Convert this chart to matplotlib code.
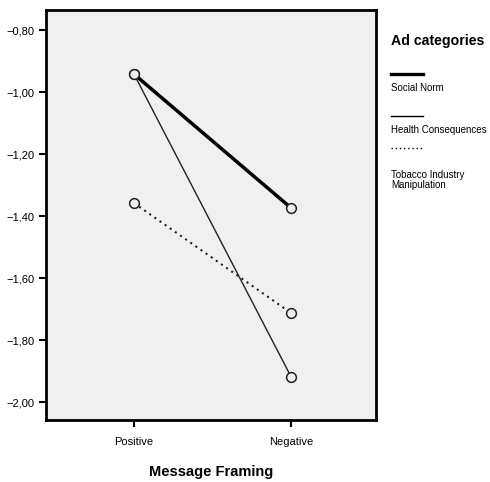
import matplotlib.pyplot as plt
from matplotlib.lines import Line2D

# data
framing = ['Positive', 'Negative']
social_norm = [-0.942, -1.374]
health = [-0.942, -1.919]
tobacco = [-1.358, -1.713]
yticks = [-0.8, -1.0, -1.2, -1.4, -1.6, -1.8, -2.0]

plt.rcParams['font.family'] = ['Liberation Sans Narrow', 'Liberation Sans', 'DejaVu Sans']

fig = plt.figure(figsize=(4.9, 4.82), dpi=100)
ax = fig.add_axes([46 / 490, 1 - 420 / 482, 330 / 490, 410 / 482])
ax.set_facecolor('#f0f0f0')

x = [0, 1]
mk = dict(marker='o', markersize=7, markerfacecolor='#f0f0f0', markeredgecolor='#222222', markeredgewidth=1.1)
ax.plot(x, social_norm, color='black', lw=2.5, **mk)
ax.plot(x, health, color='#222222', lw=1.0, **mk)
ax.plot(x, tobacco, color='#222222', lw=1.5, linestyle=(0, (1, 2)), **mk)

ax.set_xlim(-0.56, 1.54)
ax.set_ylim(-2.058, -0.735)
ax.set_xticks(x)
ax.set_xticklabels(framing, fontsize=8)
ax.set_yticks(yticks)
ax.set_yticklabels([('%.2f' % v).replace('-', '\u2212').replace('.', ',') for v in yticks], fontsize=8)
ax.tick_params(direction='out', length=5, width=1.5, pad=3)
ax.tick_params(axis='x', pad=7)

for s in ax.spines.values():
    s.set_linewidth(2)
    s.set_color('black')

ax.set_xlabel('Message Framing', fontsize=10.5, fontweight='bold', labelpad=13)

# legend outside on the right
fig.text(391 / 490, 1 - 41 / 482, 'Ad categories', fontsize=10.2, fontweight='bold', va='center')
legend_items = [
    (74, 88, 'Social Norm', 2.4, '-'),
    (116, 130, 'Health Consequences', 1.0, '-'),
    (148, 180, 'Tobacco Industry\nManipulation', 1.0, (0, (1, 2))),
]
for yline, ytext, label, lw, ls in legend_items:
    yy = 1 - yline / 482
    fig.add_artist(Line2D([391 / 490, 423 / 490], [yy, yy], color='black', lw=lw, linestyle=ls))
    fig.text(391 / 490, 1 - ytext / 482, label, fontsize=7, va='center', linespacing=1.1)

fig.savefig('out.png', dpi=100)
